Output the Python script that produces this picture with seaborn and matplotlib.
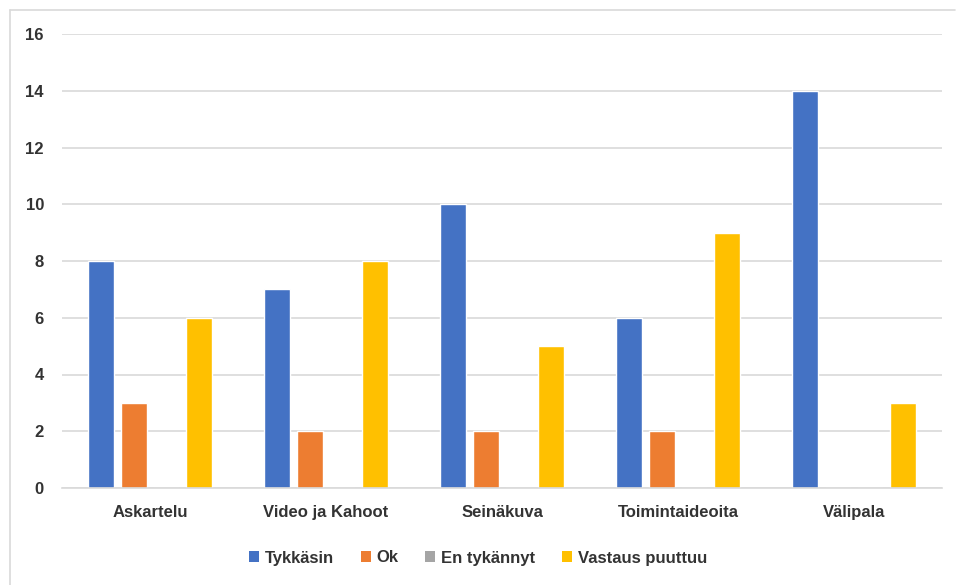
import matplotlib
matplotlib.use("Agg")
import matplotlib.pyplot as plt
from matplotlib.patches import Patch
from matplotlib.lines import Line2D
import seaborn as sns
import pandas as pd

categories = ["Askartelu", "Video ja Kahoot", "Seinäkuva", "Toimintaideoita", "Välipala"]
series = ["Tykkäsin", "Ok", "En tykännyt", "Vastaus puuttuu"]
tykkasin = [8, 7, 10, 6, 14]
ok = [3, 2, 2, 2, 0]
en_tykannyt = [0, 0, 0, 0, 0]
vastaus_puuttuu = [6, 8, 5, 9, 3]
colors = ["#4472C4", "#ED7D31", "#A5A5A5", "#FFC000"]
yticks = [0, 2, 4, 6, 8, 10, 12, 14, 16]

values = [tykkasin, ok, en_tykannyt, vastaus_puuttuu]
rows = []
for s, vals in zip(series, values):
    for c, v in zip(categories, vals):
        rows.append({"Kategoria": c, "Sarja": s, "Arvo": v})
df = pd.DataFrame(rows)

sns.set_theme(style="white")
plt.rcParams["font.family"] = ["Liberation Sans", "DejaVu Sans"]
text_color = "#333333"
fs = 12

fig = plt.figure(figsize=(9.56, 5.85), dpi=100)
ax = fig.add_axes([62/956, 1 - 488/585, 880/956, (488 - 34)/585])

sns.barplot(data=df, x="Kategoria", y="Arvo", hue="Sarja", order=categories,
            hue_order=series, palette=colors, width=0.74, gap=0.21,
            saturation=1, legend=False, ax=ax, errorbar=None)

ax.set_xlim(-0.5, len(categories) - 0.5)
ax.set_ylim(0, 16)
ax.set_yticks(yticks)
ax.set_yticklabels([str(t) for t in yticks])
ax.yaxis.grid(True, color="#D9D9D9", linewidth=1.2)
ax.set_axisbelow(True)
for sp in ["top", "right", "left"]:
    ax.spines[sp].set_visible(False)
ax.spines["bottom"].set_color("#D9D9D9")
ax.spines["bottom"].set_linewidth(1.2)
ax.set_xlabel("")
ax.set_ylabel("")
ax.tick_params(axis="y", length=0, pad=13, labelsize=fs, labelcolor=text_color)
ax.tick_params(axis="x", length=0, pad=12, labelsize=fs, labelcolor=text_color)
for lab in ax.get_xticklabels() + ax.get_yticklabels():
    lab.set_fontweight("bold")

handles = [Patch(facecolor=c, edgecolor="none", label=s) for c, s in zip(colors, series)]
leg = fig.legend(handles=handles, loc="center", bbox_to_anchor=(0.5, 1 - 558/585),
                 ncol=4, frameon=False, handlelength=0.6, handleheight=0.6,
                 handletextpad=0.35, columnspacing=1.6,
                 prop={"size": fs, "weight": "bold"})
for t in leg.get_texts():
    t.set_color(text_color)

border_color = "#D9D9D9"
fig.add_artist(Line2D([10/956, 10/956], [0, 1 - 10/585], transform=fig.transFigure,
                      color=border_color, linewidth=1.2))
fig.add_artist(Line2D([10/956, 955/956], [1 - 10/585, 1 - 10/585], transform=fig.transFigure,
                      color=border_color, linewidth=1.2))

fig.savefig("out.png", dpi=100, facecolor="white")
